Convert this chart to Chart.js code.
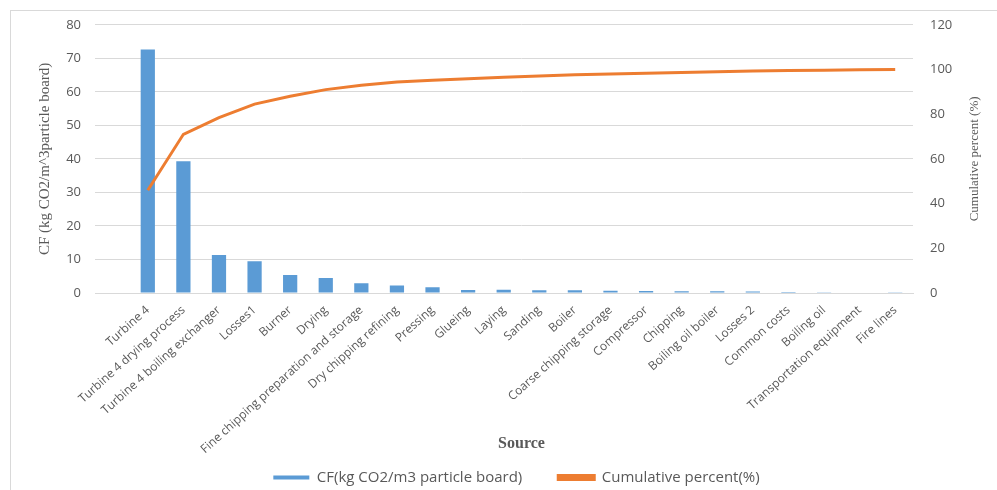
<!DOCTYPE html>
<html>
<head>
<meta charset="utf-8">
<script src="https://cdn.jsdelivr.net/npm/chart.js@4.4.1/dist/chart.umd.min.js"></script>
<style>
  html, body { margin: 0; padding: 0; background: #fff; }
  #wrap { position: relative; width: 997px; height: 490px; }
  #frame { position: absolute; left: 10px; top: 10px; right: 0; bottom: 0; border-left: 1px solid #d9d9d9; border-top: 1px solid #d9d9d9; pointer-events: none; }
</style>
</head>
<body>
<div id="wrap">
  <canvas id="paretoChart" width="997" height="490"></canvas>
  <div id="frame"></div>
</div>
<script>
// sumber emisi (kategori)
const sources = ['Turbine 4', 'Turbine 4 drying process', 'Turbine 4 boiling exchanger', 'Losses1', 'Burner', 'Drying',
  'Fine chipping preparation and storage', 'Dry chipping refining', 'Pressing', 'Glueing', 'Laying', 'Sanding', 'Boiler',
  'Coarse chipping storage', 'Compressor', 'Chipping', 'Boiling oil boiler', 'Losses 2', 'Common costs', 'Boiling oil',
  'Transportation equipment', 'Fire lines'];

// CF (kg CO2/m3 particle board)
const cfValues = [72.6, 39.3, 11.3, 9.5, 5.4, 4.5, 2.9, 2.2, 1.7, 0.9, 1.0, 0.8, 0.8, 0.7, 0.6, 0.5, 0.5, 0.45, 0.3, 0.2, 0.15, 0.1];

// cumulative percent (%)
const cumulativePercent = [46, 71, 78.5, 84.5, 88, 91, 93, 94.4, 95.2, 95.9, 96.5, 97.1, 97.6, 98.0, 98.3, 98.7, 99.0, 99.3, 99.5, 99.7, 99.9, 100];

const leftTicks = [0, 10, 20, 30, 40, 50, 60, 70, 80];
const rightTicks = [0, 20, 40, 60, 80, 100, 120];

const textColor = '#595959';
const gridColor = '#d9d9d9';

// judul sumbu kanan, dibaca dari bawah ke atas seperti Excel
const rightTitlePlugin = {
  id: 'rightTitle',
  afterDraw: function(chart) {
    const ctx = chart.ctx;
    const area = chart.chartArea;
    ctx.save();
    ctx.translate(975, (area.top + area.bottom) / 2);
    ctx.rotate(-Math.PI / 2);
    ctx.font = '13px "Liberation Serif"';
    ctx.fillStyle = textColor;
    ctx.textAlign = 'center';
    ctx.textBaseline = 'middle';
    ctx.fillText('Cumulative percent (%)', 0, 0);
    ctx.restore();
  }
};

document.addEventListener('DOMContentLoaded', function() {
  const ctx = document.getElementById('paretoChart');
  if (!ctx) {
    console.error('Canvas not found');
    return;
  }

  new Chart(ctx.getContext('2d'), {
    data: {
      labels: sources,
      datasets: [{
        type: 'line',
        label: 'Cumulative percent(%)',
        data: cumulativePercent,
        yAxisID: 'yRight',
        borderColor: '#ED7D31',
        backgroundColor: '#ED7D31',
        borderWidth: 3,
        pointRadius: 0,
        tension: 0,
        order: 0
      }, {
        type: 'bar',
        label: 'CF(kg CO2/m3 particle board)',
        data: cfValues,
        yAxisID: 'yLeft',
        backgroundColor: '#5B9BD5',
        borderWidth: 0,
        barPercentage: 0.4,
        categoryPercentage: 1.0,
        order: 1
      }]
    },
    options: {
      responsive: false,
      animation: false,
      layout: { padding: { left: 36, right: 0, top: 24, bottom: -5 } },
      scales: {
        x: {
          grid: { display: false },
          border: { color: gridColor },
          ticks: {
            color: textColor,
            font: { family: 'Open Sans', size: 12 },
            autoSkip: false,
            minRotation: 42,
            maxRotation: 42,
            padding: 2
          },
          title: {
            display: true,
            text: 'Source',
            color: textColor,
            font: { family: 'Liberation Serif', size: 16, weight: 'bold' },
            padding: { top: 0, bottom: 11 }
          },
          afterFit: function(scale) { scale.height = 171; }
        },
        yLeft: {
          position: 'left',
          min: 0,
          max: 80,
          afterBuildTicks: function(scale) { scale.ticks = leftTicks.map(v => ({ value: v })); },
          grid: { color: gridColor, tickLength: 35, tickColor: gridColor },
          border: { display: false },
          ticks: { color: textColor, font: { family: 'Open Sans', size: 13 }, padding: 14 },
          title: {
            display: true,
            text: 'CF (kg CO2/m^3particle board)',
            color: textColor,
            font: { family: 'Liberation Serif', size: 15 },
            padding: { top: 0, bottom: 0 }
          },
          afterFit: function(scale) { scale.width = 94; }
        },
        yRight: {
          position: 'right',
          min: 0,
          max: 120,
          afterBuildTicks: function(scale) { scale.ticks = rightTicks.map(v => ({ value: v })); },
          grid: { drawOnChartArea: false, drawTicks: false },
          border: { display: false },
          ticks: { color: textColor, font: { family: 'Open Sans', size: 13 }, padding: 17 },
          afterFit: function(scale) { scale.width = 84; }
        }
      },
      plugins: {
        legend: {
          position: 'bottom',
          labels: {
            color: textColor,
            font: { family: 'Open Sans', size: 15 },
            boxWidth: 36,
            boxHeight: 4,
            padding: 6,
            sort: function(a, b) { return b.datasetIndex - a.datasetIndex; },
            generateLabels: function(chart) {
              const items = Chart.defaults.plugins.legend.labels.generateLabels(chart);
              items.forEach(function(item) {
                if (item.datasetIndex === 1) item.text = item.text + '\u2003\u2003';
              });
              return items;
            }
          }
        },
        tooltip: { enabled: false }
      }
    },
    plugins: [rightTitlePlugin]
  });
});
</script>
</body>
</html>
